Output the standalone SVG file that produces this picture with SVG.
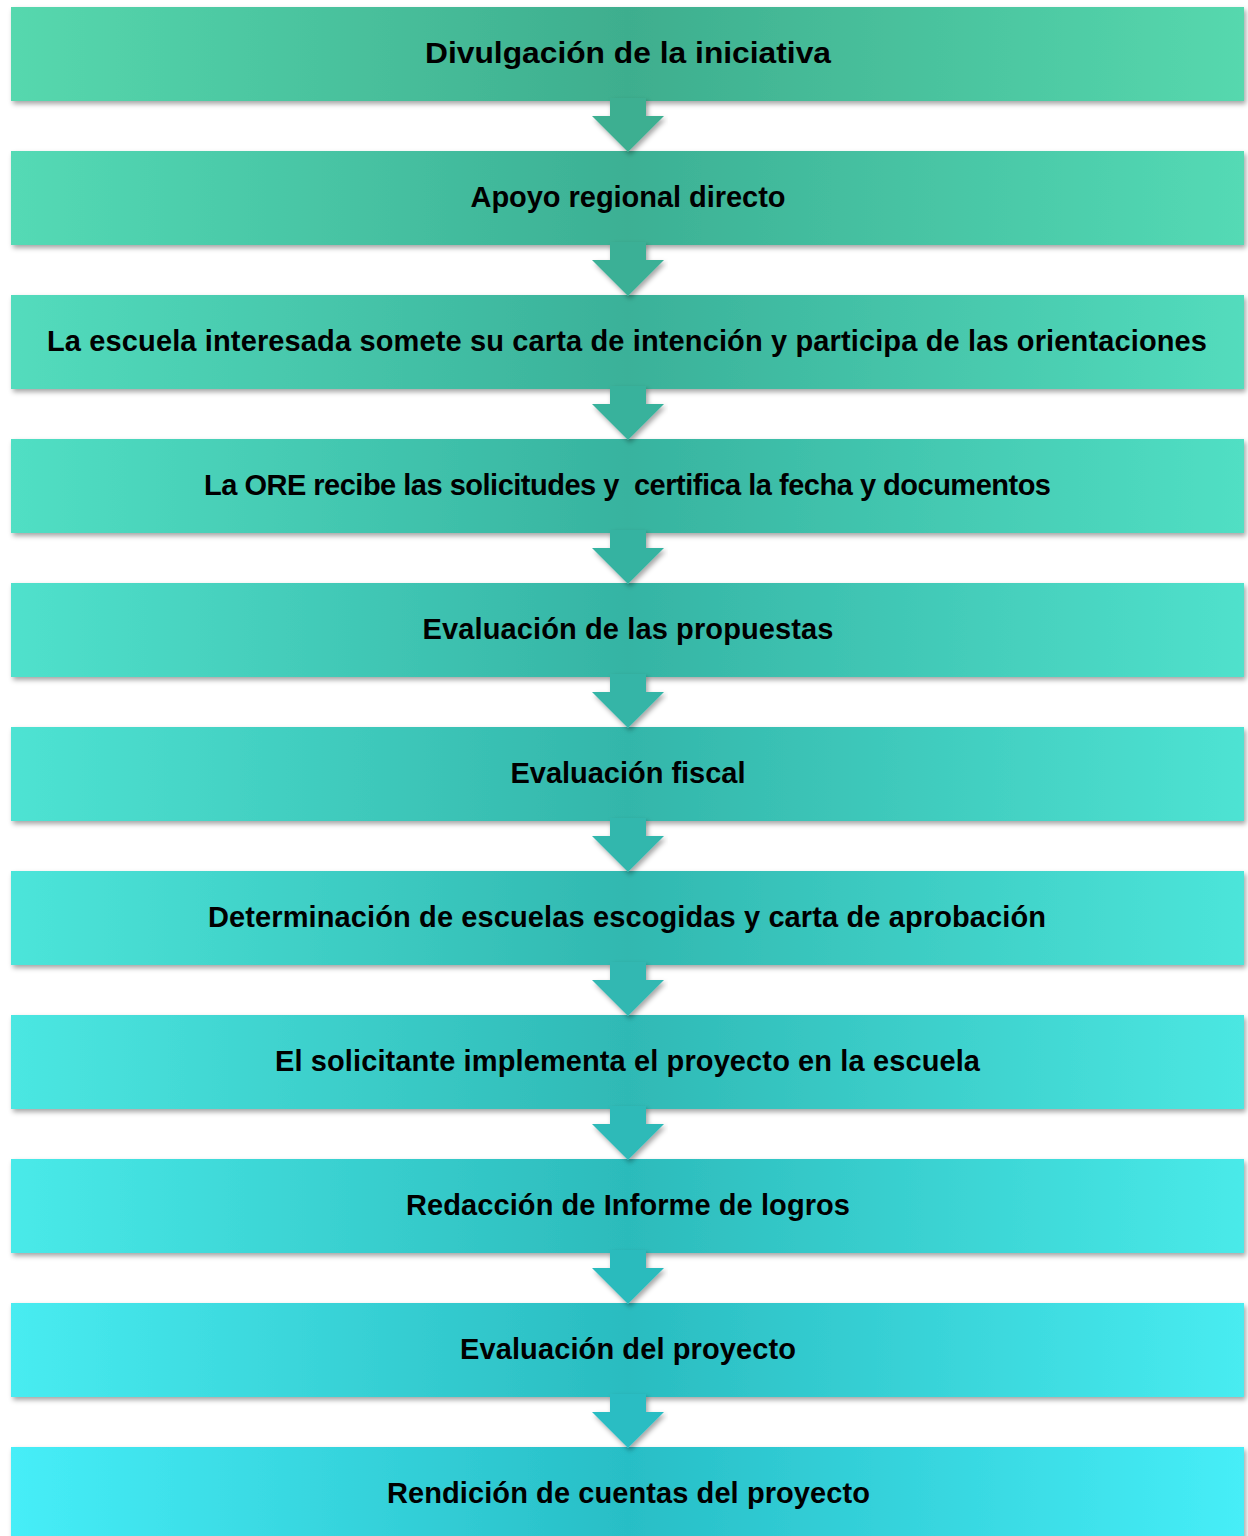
<svg xmlns="http://www.w3.org/2000/svg" width="1248" height="1536" viewBox="0 0 1248 1536">
<style>
.box{filter:url(#sh);}
.lbl{font-family:"Liberation Sans",Arial,sans-serif;font-weight:bold;font-size:29px;fill:#000;text-anchor:middle;white-space:pre;}
.arr{filter:url(#sh);}
</style>
<defs>
<filter id="sh" x="-5%" y="-30%" width="110%" height="160%">
<feDropShadow dx="2" dy="3" stdDeviation="2.5" flood-color="#000" flood-opacity="0.35"/>
</filter>
<linearGradient id="g0"><stop offset="0" stop-color="#56D8AE"/><stop offset="0.5" stop-color="#3EAE8E"/><stop offset="1" stop-color="#56D8AE"/></linearGradient>
<linearGradient id="g1"><stop offset="0" stop-color="#54DAB5"/><stop offset="0.5" stop-color="#3CB094"/><stop offset="1" stop-color="#54DAB5"/></linearGradient>
<linearGradient id="g2"><stop offset="0" stop-color="#53DCBD"/><stop offset="0.5" stop-color="#3AB199"/><stop offset="1" stop-color="#53DCBD"/></linearGradient>
<linearGradient id="g3"><stop offset="0" stop-color="#51DFC4"/><stop offset="0.5" stop-color="#37B39F"/><stop offset="1" stop-color="#51DFC4"/></linearGradient>
<linearGradient id="g4"><stop offset="0" stop-color="#50E1CC"/><stop offset="0.5" stop-color="#35B4A4"/><stop offset="1" stop-color="#50E1CC"/></linearGradient>
<linearGradient id="g5"><stop offset="0" stop-color="#4EE3D3"/><stop offset="0.5" stop-color="#33B6AA"/><stop offset="1" stop-color="#4EE3D3"/></linearGradient>
<linearGradient id="g6"><stop offset="0" stop-color="#4CE5DA"/><stop offset="0.5" stop-color="#31B8B0"/><stop offset="1" stop-color="#4CE5DA"/></linearGradient>
<linearGradient id="g7"><stop offset="0" stop-color="#4BE7E2"/><stop offset="0.5" stop-color="#2FB9B5"/><stop offset="1" stop-color="#4BE7E2"/></linearGradient>
<linearGradient id="g8"><stop offset="0" stop-color="#49EAE9"/><stop offset="0.5" stop-color="#2CBBBB"/><stop offset="1" stop-color="#49EAE9"/></linearGradient>
<linearGradient id="g9"><stop offset="0" stop-color="#48ECF1"/><stop offset="0.5" stop-color="#2ABCC0"/><stop offset="1" stop-color="#48ECF1"/></linearGradient>
<linearGradient id="g10"><stop offset="0" stop-color="#46EEF8"/><stop offset="0.5" stop-color="#28BEC6"/><stop offset="1" stop-color="#46EEF8"/></linearGradient>
<polygon id="arrow" points="610,98 646,98 646,116 664,116 628,152 592,116 610,116"/>
</defs>
<rect width="1248" height="1536" fill="#FFFFFF"/>

<g id="n1"><rect class="box" x="11" y="7" width="1233" height="94" fill="url(#g0)"/><text class="lbl" x="628" y="63" style="font-size:30px" textLength="406" lengthAdjust="spacingAndGlyphs">Divulgación de la iniciativa</text></g>
<g id="n2"><rect class="box" x="11" y="151" width="1233" height="94" fill="url(#g1)"/><text class="lbl" x="628" y="207" textLength="315" lengthAdjust="spacing">Apoyo regional directo</text></g>
<g id="n3"><rect class="box" x="11" y="295" width="1233" height="94" fill="url(#g2)"/><text class="lbl" x="627" y="351" textLength="1160" lengthAdjust="spacing">La escuela interesada somete su carta de intención y participa de las orientaciones</text></g>
<g id="n4"><rect class="box" x="11" y="439" width="1233" height="94" fill="url(#g3)"/><text class="lbl" x="627.5" y="495" textLength="847" lengthAdjust="spacing">La ORE recibe las solicitudes y  certifica la fecha y documentos</text></g>
<g id="n5"><rect class="box" x="11" y="583" width="1233" height="94" fill="url(#g4)"/><text class="lbl" x="628" y="639" textLength="411" lengthAdjust="spacing">Evaluación de las propuestas</text></g>
<g id="n6"><rect class="box" x="11" y="727" width="1233" height="94" fill="url(#g5)"/><text class="lbl" x="628" y="783" textLength="235" lengthAdjust="spacing">Evaluación fiscal</text></g>
<g id="n7"><rect class="box" x="11" y="871" width="1233" height="94" fill="url(#g6)"/><text class="lbl" x="627" y="927" textLength="838" lengthAdjust="spacing">Determinación de escuelas escogidas y carta de aprobación</text></g>
<g id="n8"><rect class="box" x="11" y="1015" width="1233" height="94" fill="url(#g7)"/><text class="lbl" x="627.5" y="1071" textLength="705" lengthAdjust="spacing">El solicitante implementa el proyecto en la escuela</text></g>
<g id="n9"><rect class="box" x="11" y="1159" width="1233" height="94" fill="url(#g8)"/><text class="lbl" x="628" y="1215" textLength="444" lengthAdjust="spacing">Redacción de Informe de logros</text></g>
<g id="n10"><rect class="box" x="11" y="1303" width="1233" height="94" fill="url(#g9)"/><text class="lbl" x="628" y="1359" textLength="336" lengthAdjust="spacing">Evaluación del proyecto</text></g>
<g id="n11"><rect class="box" x="11" y="1447" width="1233" height="94" fill="url(#g10)"/><text class="lbl" x="628.5" y="1503" textLength="483" lengthAdjust="spacing">Rendición de cuentas del proyecto</text></g>

<g id="connectors">
<use href="#arrow" class="arr" fill="#3DAF91" transform="translate(0,0)"/>
<use href="#arrow" class="arr" fill="#3BB096" transform="translate(0,144)"/>
<use href="#arrow" class="arr" fill="#39B29C" transform="translate(0,288)"/>
<use href="#arrow" class="arr" fill="#36B3A1" transform="translate(0,432)"/>
<use href="#arrow" class="arr" fill="#34B5A7" transform="translate(0,576)"/>
<use href="#arrow" class="arr" fill="#32B7AD" transform="translate(0,720)"/>
<use href="#arrow" class="arr" fill="#30B8B2" transform="translate(0,864)"/>
<use href="#arrow" class="arr" fill="#2EBAB8" transform="translate(0,1008)"/>
<use href="#arrow" class="arr" fill="#2BBBBD" transform="translate(0,1152)"/>
<use href="#arrow" class="arr" fill="#29BDC3" transform="translate(0,1296)"/>
</g>
</svg>
